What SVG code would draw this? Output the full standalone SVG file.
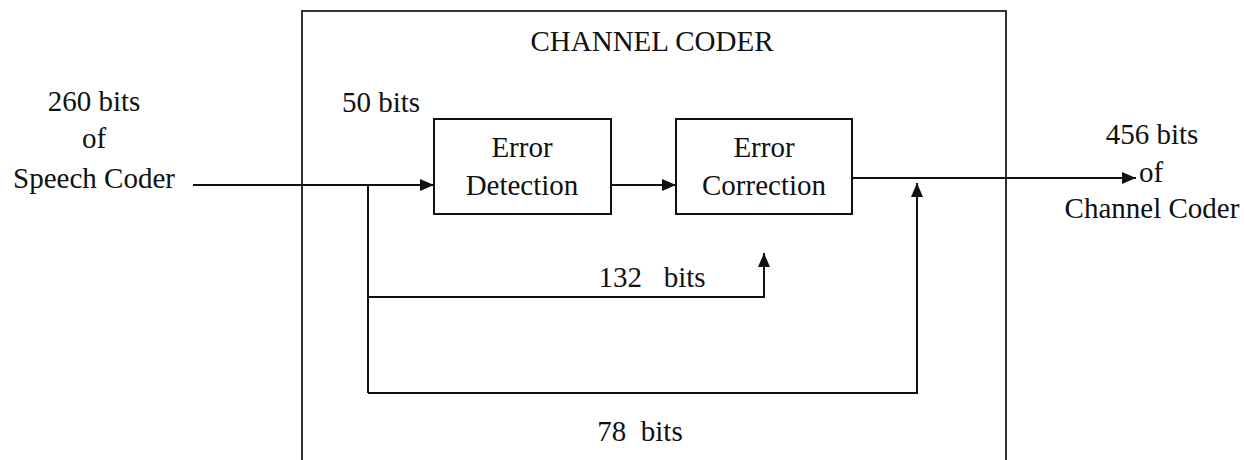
<svg xmlns="http://www.w3.org/2000/svg" width="1245" height="460" viewBox="0 0 1245 460">
  <style>
    text { font-family: "Liberation Serif", "Times New Roman", serif; font-size: 29px; fill: #111; text-anchor: middle; white-space: pre; }
    .box { fill: #fff; stroke: #111; stroke-width: 2; }
    .frame { fill: none; stroke: #333; stroke-width: 2; }
    .wire { fill: none; stroke: #111; stroke-width: 2; }
    .arrow { marker-end: url(#head); }
  </style>
  <defs>
    <marker id="head" markerUnits="userSpaceOnUse" markerWidth="14" markerHeight="12" refX="14" refY="6" orient="auto">
      <path d="M0,0 L14,6 L0,12 z" fill="#111"/>
    </marker>
  </defs>

  <rect width="1245" height="460" fill="#fff"/>

  <!-- channel coder enclosure (open at the bottom) -->
  <g id="channel-coder">
    <path class="frame" d="M302,460 V11 H1006 V460"/>
    <text x="652" y="51">CHANNEL CODER</text>
  </g>

  <!-- input / output labels -->
  <g id="speech-coder-input">
    <text x="94" y="111">260 bits</text>
    <text x="94" y="148">of</text>
    <text x="94" y="188">Speech Coder</text>
  </g>
  <g id="channel-coder-output">
    <text x="1152" y="144">456 bits</text>
    <text x="1151" y="182">of</text>
    <text x="1152" y="218">Channel Coder</text>
  </g>

  <!-- processing blocks -->
  <g id="error-detection">
    <rect class="box" x="434" y="119" width="177" height="95"/>
    <text x="522" y="157">Error</text>
    <text x="522" y="195">Detection</text>
  </g>
  <g id="error-correction">
    <rect class="box" x="676" y="119" width="176" height="95"/>
    <text x="764" y="157">Error</text>
    <text x="764" y="195">Correction</text>
  </g>

  <!-- connectors -->
  <g id="connectors">
    <path class="wire arrow" d="M193,185 H434"/>
    <path class="wire" d="M368,185 V393"/>
    <path class="wire arrow" d="M368,297 H764 V253"/>
    <path class="wire arrow" d="M368,393 H917 V183"/>
    <path class="wire arrow" d="M611,185 H676"/>
    <path class="wire arrow" d="M852,178 H1136"/>
  </g>

  <!-- bit-count labels -->
  <g id="labels">
    <text x="381" y="112">50 bits</text>
    <text x="652" y="287">132   bits</text>
    <text x="640" y="441">78  bits</text>
  </g>
</svg>
